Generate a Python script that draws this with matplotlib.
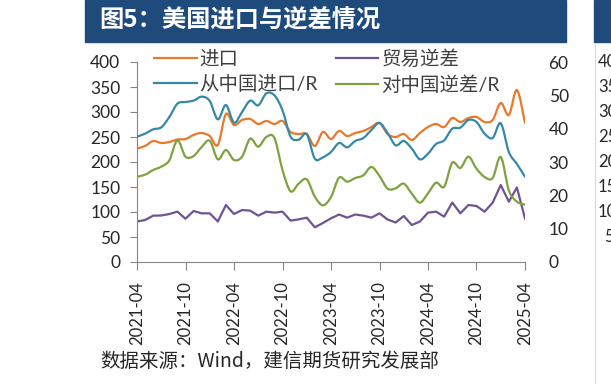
import numpy as np
import pandas as pd
import matplotlib
matplotlib.use("Agg")
import matplotlib.pyplot as plt
from matplotlib.path import Path
from matplotlib.patches import PathPatch, Rectangle
from matplotlib.lines import Line2D

plt.rcParams['font.family'] = ['Lato', 'Noto Sans CJK SC', 'DejaVu Sans']

# 月份: 2021-04 ~ 2025-04
months = pd.date_range('2021-04-01', '2025-04-01', freq='MS')
tick_labels = ['2021-04', '2021-10', '2022-04', '2022-10', '2023-04',
               '2023-10', '2024-04', '2024-10', '2025-04']

# 进口 (左轴, 十亿美元)
imports = [227, 232, 242, 238, 240, 245, 246, 254, 258, 252,
           234, 296, 274, 284, 286, 276, 282, 276, 282, 260,
           256, 256, 232, 260, 246, 262, 252, 258, 262, 270,
           278, 256, 250, 256, 244, 258, 270, 276, 270, 288,
           280, 288, 290, 280, 284, 318, 294, 344, 278]

# 贸易逆差 (左轴)
deficit = [81, 84, 92.7, 93, 96, 100.7, 86.5, 102, 97.3, 97.3,
           81, 114, 96, 104, 102.7, 92.7, 100.7, 98.7, 100.7, 82.7,
           85.3, 88.7, 69.3, 78, 87.3, 95, 88.7, 95, 92.7, 88.7,
           97.3, 85, 79, 92, 74, 81, 98.7, 100.7, 90.7, 119,
           97.3, 114, 112, 100.7, 118.7, 154, 120.7, 149, 87]

# 从中国进口 (右轴)
china_imports = [37.6, 38.5, 39.8, 40.4, 43.5, 47.5, 48, 48.4, 49.6, 48.3,
                 42.8, 47.1, 41.8, 45, 48.4, 47, 50.6, 50, 45.5, 37.6,
                 36.7, 38.3, 31, 31.4, 33, 35.7, 34.4, 36.3, 37.2, 39.6,
                 41.7, 38.7, 35, 36.3, 34, 30.8, 32.5, 35.4, 36.5, 40,
                 40.3, 42.6, 42, 38.5, 37.2, 41.6, 33, 29.4, 25.6]

# 对中国逆差 (右轴)
china_deficit = [25.6, 26.2, 27.6, 28.6, 30.5, 36.5, 31.6, 31.8, 34.5, 36.4,
                 30.8, 33.6, 30.6, 31.6, 37, 34.6, 37.5, 37.2, 27.6, 21.2,
                 23.5, 24.8, 19.6, 17, 19.5, 25.3, 24.1, 25.2, 26, 28.5,
                 25.8, 22, 22.1, 23.5, 20.5, 17.8, 20.6, 23.8, 22.6, 29.8,
                 28.2, 31.6, 28, 25.5, 25.2, 31.5, 21.5, 18.1, 17.2]

c_imp = '#E8792B'
c_def = '#6E5494'
c_cimp = '#3589A8'
c_cdef = '#7EA240'


def smooth_line(ax, y, color, lw=1.6):
    # Excel式平滑线: 用贝塞尔曲线连接各点
    x = np.arange(len(y), dtype=float)
    y = np.asarray(y, dtype=float)
    pts = np.column_stack([x, y])
    n = len(pts)
    verts = [pts[0]]
    codes = [Path.MOVETO]
    for i in range(n - 1):
        p0 = pts[max(i - 1, 0)]
        p1 = pts[i]
        p2 = pts[i + 1]
        p3 = pts[min(i + 2, n - 1)]
        verts += [p1 + (p2 - p0) / 6, p2 - (p3 - p1) / 6, p2]
        codes += [Path.CURVE4] * 3
    patch = PathPatch(Path(verts, codes), facecolor='none', edgecolor=color,
                      lw=lw, capstyle='round', joinstyle='round')
    ax.add_patch(patch)


fig = plt.figure(figsize=(6.11, 3.84), dpi=100)

# 标题栏
fig.patches.append(Rectangle((85 / 611, 1 - 42 / 384), 481 / 611, 42 / 384,
                             transform=fig.transFigure, color='#1F4A7C'))
fig.patches.append(Rectangle((594 / 611, 1 - 42 / 384), 17 / 611, 42 / 384,
                             transform=fig.transFigure, color='#1F4A7C'))
fig.text(99 / 611, 1 - 21 / 384, '图5：美国进口与逆差情况', color='white',
         fontsize=17.5, fontweight='bold', va='center', ha='left',
         family=['Noto Sans CJK SC'])
fig.add_artist(Line2D([595 / 611, 595 / 611], [0, 1 - 44 / 384],
                      transform=fig.transFigure, color='#D9D9D9', lw=0.8))

ax = fig.add_axes([137 / 611, 122 / 384, 388 / 611, 200 / 384])
ax2 = ax.twinx()

x = np.arange(len(months))
smooth_line(ax, imports, c_imp)
ax.plot(x, deficit, color=c_def, lw=1.6, solid_joinstyle='round')
smooth_line(ax2, china_imports, c_cimp)
smooth_line(ax2, china_deficit, c_cdef)

ax.set_xlim(0, len(months) - 1)
ax.set_ylim(0, 400)
ax2.set_ylim(0, 60)
ax.set_yticks(np.arange(0, 401, 50))
ax2.set_yticks(np.arange(0, 61, 10))

tick_pos = [i for i, m in enumerate(months) if m.strftime('%Y-%m') in tick_labels]
ax.set_xticks(tick_pos)
ax.set_xticklabels(tick_labels, rotation=90)

for a in (ax, ax2):
    for s in ('top', 'right'):
        a.spines[s].set_visible(False)
ax2.spines['left'].set_visible(False)
ax2.spines['bottom'].set_visible(False)
ax.spines['left'].set_color('#868686')
ax.spines['bottom'].set_color('#868686')

ax.tick_params(axis='y', length=5, color='#868686', labelsize=12.5, pad=7,
               labelcolor='#262626')
ax.tick_params(axis='x', length=6, color='#868686', labelsize=12, pad=8,
               labelcolor='#262626')
ax2.tick_params(axis='y', length=0, labelsize=12.5, pad=17, labelcolor='#262626')

handles = [Line2D([], [], color=c_imp, lw=1.6),
           Line2D([], [], color=c_cimp, lw=1.6),
           Line2D([], [], color=c_def, lw=1.6),
           Line2D([], [], color=c_cdef, lw=1.6)]
labels = ['进口', '从中国进口/R', '贸易逆差', '对中国逆差/R']
fig.legend(handles, labels, ncol=2, loc='upper left', frameon=False,
           bbox_to_anchor=(154 / 611, 1 - 49 / 384),
           handlelength=2.2, handletextpad=0.15, columnspacing=0.9,
           labelspacing=0.38, borderpad=0, borderaxespad=0,
           labelcolor='#404040',
           prop={'family': ['Lato', 'Noto Sans CJK SC'], 'size': 14})

# 右侧下一张图的局部
for v, yy in zip([400, 350, 300, 250, 200, 150, 100, 50],
                 [62, 87, 112, 137, 162, 187, 212, 237]):
    fig.text(598 / 611 if v >= 100 else 604 / 611, 1 - yy / 384, str(v),
             fontsize=12, va='center', ha='left', color='#262626')

fig.text(100 / 611, 1 - 361 / 384, '数据来源：Wind，建信期货研究发展部',
         fontsize=14, va='center', ha='left', style='italic',
         family=['Noto Sans CJK SC', 'DejaVu Sans'], color='#262626')

fig.savefig('out.png', dpi=100)
